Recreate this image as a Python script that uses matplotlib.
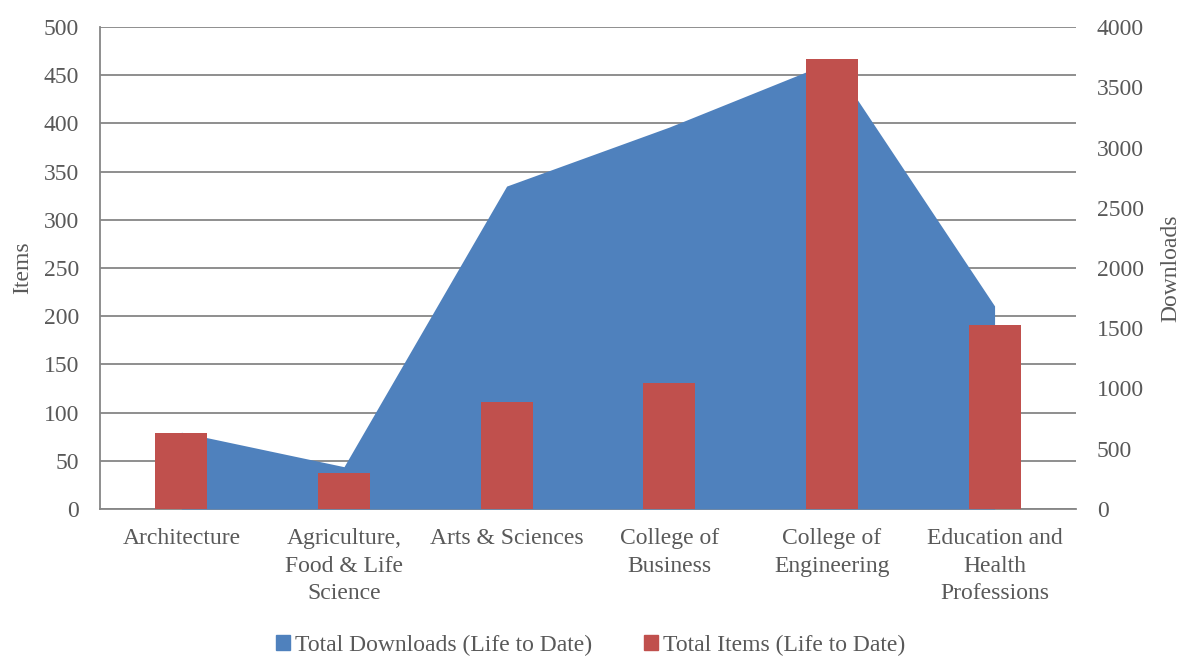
import numpy as np
import matplotlib
matplotlib.use("Agg")
import matplotlib.pyplot as plt
from matplotlib.patches import Patch

plt.rcParams['font.family'] = ['Liberation Serif', 'DejaVu Serif']

colleges = ["Architecture", "Agriculture,\nFood & Life\nScience", "Arts & Sciences",
            "College of\nBusiness", "College of\nEngineering", "Education and\nHealth\nProfessions"]
downloads = [637, 351, 2680, 3170, 3714, 1685]
items = [79, 37, 111, 131, 467, 191]

txt = '#595959'
grid_c = '#868686'
blue = '#4F81BD'
red = '#C0504D'
fs = 17

x = np.arange(len(colleges))

fig = plt.figure(figsize=(11.81, 6.56), dpi=100)
ax = fig.add_subplot(111)
fig.subplots_adjust(left=0.0847, right=0.911, top=0.9588, bottom=0.2241)

# back: items grid + left axis
ax.set_xlim(-0.5, len(colleges) - 0.5)
ax.set_ylim(0, 500)
ax.set_yticks(np.arange(0, 501, 50))
ax.yaxis.grid(True, color=grid_c, linewidth=1.3)
ax.tick_params(axis='both', length=0, labelsize=fs, colors=txt)
ax.tick_params(axis='y', pad=15)
ax.tick_params(axis='x', pad=14)
ax.set_xticks(x)
ax.set_xticklabels(colleges)
for lbl in ax.get_xticklabels():
    lbl.set_linespacing(1.4)
for sp in ['top', 'right']:
    ax.spines[sp].set_visible(False)
for sp in ['left', 'bottom']:
    ax.spines[sp].set_color(grid_c)
    ax.spines[sp].set_linewidth(1.3)
ax.set_ylabel("Items", fontsize=fs, color=txt, labelpad=8)

# middle: downloads area, right axis
ax2 = ax.twinx()
ax2.fill_between(x, downloads, 0, color=blue, linewidth=0)
ax2.set_ylim(0, 4000)
ax2.set_yticks(np.arange(0, 4001, 500))
ax2.tick_params(axis='y', length=0, labelsize=fs, colors=txt, pad=15)
for sp in ax2.spines.values():
    sp.set_visible(False)
ax2.set_ylabel("Downloads", fontsize=fs, color=txt, labelpad=12)

# front: item bars on the items scale
ax3 = ax.twinx()
ax3.set_ylim(ax.get_ylim())
ax3.bar(x, items, width=0.32, color=red)
ax3.set_yticks([])
for sp in ax3.spines.values():
    sp.set_visible(False)

handles = [Patch(color=blue, label="Total Downloads (Life to Date)"),
           Patch(color=red, label="Total Items (Life to Date)")]
leg = fig.legend(handles=handles, loc='center', bbox_to_anchor=(0.5, 0.0168), ncol=2,
                 frameon=False, fontsize=fs, handlelength=0.6, handleheight=0.6,
                 handletextpad=0.2, columnspacing=2.2)
for t in leg.get_texts():
    t.set_color(txt)

fig.savefig("out.png", dpi=100)
